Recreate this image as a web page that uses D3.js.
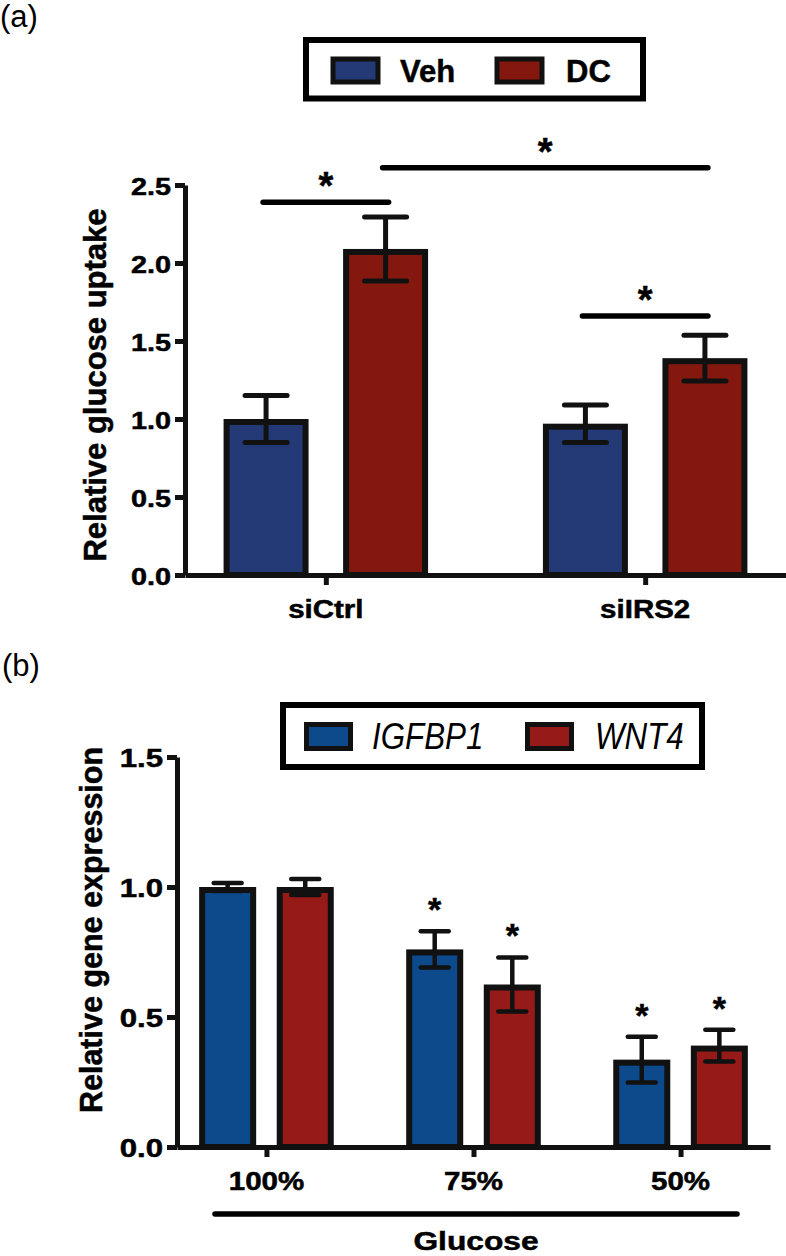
<!DOCTYPE html>
<meta charset="utf-8">
<style>
body { margin: 0; background: #fff; }
svg text { font-family: "Liberation Sans", Arial, Helvetica, sans-serif; fill: #000; }
svg text.heavy { stroke: #000; stroke-width: 0.5px; }
</style>
<body>
<script src="https://cdn.jsdelivr.net/npm/d3@7"></script>
<script>

// ---- data, panel (a) ----
var groupsA = ["siCtrl", "siIRS2"];
var seriesA = ["Veh", "DC"];
var vehA = [1.0, 0.97];
var vehErrA = [0.15, 0.12];
var dcA = [2.09, 1.39];
var dcErrA = [0.205, 0.147];
var ticksA = [0, 0.5, 1.0, 1.5, 2.0, 2.5];
// significance brackets: [group, series] -> [group, series], height in data units
var sigA = [
  {a: ["siCtrl", "Veh"], b: ["siCtrl", "DC"], y: 2.39},
  {a: ["siCtrl", "DC"], b: ["siIRS2", "DC"], y: 2.61},
  {a: ["siIRS2", "Veh"], b: ["siIRS2", "DC"], y: 1.66}
];

// ---- data, panel (b) ----
var groupsB = ["100%", "75%", "50%"];
var seriesB = ["IGFBP1", "WNT4"];
var igfbp1 = [1.0, 0.76, 0.336];
var igfbp1Err = [0.015, 0.07, 0.088];
var wnt4 = [1.0, 0.625, 0.39];
var wnt4Err = [0.031, 0.104, 0.061];
var starIgfbp1 = [false, true, true];
var starWnt4 = [false, true, true];
var ticksB = [0, 0.5, 1.0, 1.5];

var colorsA = {"Veh": "#233a77", "DC": "#84180f"};
var colorsB = {"IGFBP1": "#0c4a8b", "WNT4": "#961a18"};
var ink = "#111";

var svg = d3.select("body").append("svg")
    .attr("width", 786)
    .attr("height", 1256);

// text helper, sx stretches glyphs horizontally
function label(g, x, y, txt, o) {
  o = o || {};
  var w = o.weight || "bold";
  return g.append("text")
    .attr("class", w == "bold" ? "heavy" : null)
    .attr("transform", "translate(" + x + "," + y + ") scale(" + (o.sx || 1) + ",1)")
    .attr("text-anchor", o.anchor || "middle")
    .style("font-size", o.size + "px")
    .style("font-weight", w)
    .style("font-style", o.style || "normal")
    .text(txt);
}

function styleAxis(sel, w) {
  sel.selectAll("path, line").attr("stroke", ink).attr("stroke-width", w);
  sel.selectAll("text").remove();
}

function errBar(g, x, y0, y1, y2, capW, w) {
  g.append("line").attr("x1", x).attr("x2", x).attr("y1", y1).attr("y2", y2)
    .attr("stroke", ink).attr("stroke-width", w);
  [y1, y2].forEach(function(yy) {
    g.append("line").attr("x1", x - capW / 2).attr("x2", x + capW / 2)
      .attr("y1", yy).attr("y2", yy)
      .attr("stroke", ink).attr("stroke-width", w).attr("stroke-linecap", "round");
  });
}

// ================= panel (a) =================
var gA = svg.append("g");
label(gA, 0, 27, "(a)", {size: 31, weight: "normal", anchor: "start"});

var yA = d3.scaleLinear().domain([0, 2.5]).range([575, 185]);
var xA = d3.scalePoint().domain(groupsA).range([185, 786]).padding(0.441);
var innerA = d3.scaleBand().domain(seriesA).range([-102.25, 102.25]).paddingInner(0.289);

var valsA = {"Veh": vehA, "DC": dcA};
var errsA = {"Veh": vehErrA, "DC": dcErrA};

groupsA.forEach(function(gname, i) {
  seriesA.forEach(function(s) {
    var v = valsA[s][i], e = errsA[s][i];
    var x = xA(gname) + innerA(s), bw = innerA.bandwidth();
    gA.append("rect")
      .attr("x", x + 3).attr("y", yA(v) + 3)
      .attr("width", bw - 6).attr("height", yA(0) - yA(v) - 3)
      .attr("fill", colorsA[s]).attr("stroke", ink).attr("stroke-width", 6);
    errBar(gA, x + bw / 2, yA(v), yA(v + e), yA(v - e), 42, 5);
  });
});

gA.append("g").attr("transform", "translate(185,0)")
  .call(d3.axisLeft(yA).tickValues(ticksA).tickSize(10).tickSizeOuter(0))
  .call(styleAxis, 5);
gA.append("g").attr("transform", "translate(0,575)")
  .call(d3.axisBottom(xA).tickSize(10).tickSizeOuter(0))
  .call(styleAxis, 5);

ticksA.forEach(function(t) {
  label(gA, 171, yA(t) + 10, d3.format(".1f")(t), {size: 24, sx: 1.2, anchor: "end"});
});
groupsA.forEach(function(gname) {
  label(gA, xA(gname), 618, gname, {size: 25, sx: 1.18});
});
label(gA, 0, 0, "Relative glucose uptake", {size: 31})
  .attr("transform", "translate(106," + ((yA(0) + yA(2.5)) / 2 + 5) + ") rotate(-90)");

sigA.forEach(function(d) {
  var x1 = xA(d.a[0]) + innerA(d.a[1]) + innerA.bandwidth() / 2 - 3;
  var x2 = xA(d.b[0]) + innerA(d.b[1]) + innerA.bandwidth() / 2 + 3;
  var y = yA(d.y);
  gA.append("line").attr("x1", x1).attr("x2", x2).attr("y1", y).attr("y2", y)
    .attr("stroke", "#000").attr("stroke-width", 5.5).attr("stroke-linecap", "round");
  label(gA, (x1 + x2) / 2, y - 25 + 22, "*", {size: 38});
});

// legend (a)
var legA = gA.append("g");
legA.append("rect").attr("x", 306).attr("y", 40).attr("width", 337).attr("height", 58.5)
  .attr("fill", "#fff").attr("stroke", "#000").attr("stroke-width", 6);
[[332, "Veh", 400], [496, "DC", 566]].forEach(function(d) {
  legA.append("rect").attr("x", d[0] + 1).attr("y", 59).attr("width", 45).attr("height", 23)
    .attr("fill", colorsA[d[1]]).attr("stroke", ink).attr("stroke-width", 5);
  label(legA, d[2], 81.5, d[1], {size: 31, anchor: "start"});
});

// ================= panel (b) =================
var gB = svg.append("g");
label(gB, 2, 676, "(b)", {size: 31, weight: "normal", anchor: "start"});

var yB = d3.scaleLinear().domain([0, 1.5]).range([1147, 757]);
var xB = d3.scalePoint().domain(groupsB).range([177, 770]).padding(0.432);
var innerB = d3.scaleBand().domain(seriesB).range([-67.3, 67.3]).paddingInner(0.265);

var valsB = {"IGFBP1": igfbp1, "WNT4": wnt4};
var errsB = {"IGFBP1": igfbp1Err, "WNT4": wnt4Err};
var starsB = {"IGFBP1": starIgfbp1, "WNT4": starWnt4};

groupsB.forEach(function(gname, i) {
  seriesB.forEach(function(s) {
    var v = valsB[s][i], e = errsB[s][i];
    var x = xB(gname) + innerB(s), bw = innerB.bandwidth();
    gB.append("rect")
      .attr("x", x + 3).attr("y", yB(v) + 3)
      .attr("width", bw - 6).attr("height", yB(0) - yB(v) - 3)
      .attr("fill", colorsB[s]).attr("stroke", ink).attr("stroke-width", 6);
    errBar(gB, x + bw / 2, yB(v), yB(v + e), yB(v - e), 28, 4.5);
    if (starsB[s][i]) label(gB, x + bw / 2, yB(v + e) - 30 + 20, "*", {size: 34});
  });
});

gB.append("g").attr("transform", "translate(177,0)")
  .call(d3.axisLeft(yB).tickValues(ticksB).tickSize(10).tickSizeOuter(0))
  .call(styleAxis, 5);
gB.append("g").attr("transform", "translate(0,1147)")
  .call(d3.axisBottom(xB).tickSize(10).tickSizeOuter(0))
  .call(styleAxis, 5);

ticksB.forEach(function(t) {
  label(gB, 163, yB(t) + 10, d3.format(".1f")(t), {size: 26, sx: 1.2, anchor: "end"});
});
groupsB.forEach(function(gname) {
  label(gB, xB(gname), 1190, gname, {size: 25, sx: 1.18});
});
label(gB, 0, 0, "Relative gene expression", {size: 30.5})
  .attr("transform", "translate(102,930) rotate(-90)");

gB.append("line").attr("x1", 215).attr("x2", 737).attr("y1", 1214).attr("y2", 1214)
  .attr("stroke", "#000").attr("stroke-width", 5.5).attr("stroke-linecap", "round");
label(gB, 476, 1250, "Glucose", {size: 26, sx: 1.22});

// legend (b)
var legB = gB.append("g");
legB.append("rect").attr("x", 283).attr("y", 705).attr("width", 419).attr("height", 62)
  .attr("fill", "#fff").attr("stroke", "#000").attr("stroke-width", 6);
[[304, "IGFBP1", 372], [525, "WNT4", 595]].forEach(function(d) {
  legB.append("rect").attr("x", d[0] + 2.5).attr("y", 724.5).attr("width", 44).attr("height", 24)
    .attr("fill", colorsB[d[1]]).attr("stroke", ink).attr("stroke-width", 5);
  label(legB, d[2], 749, d[1], {size: 36, sx: 0.87, weight: "normal", style: "italic", anchor: "start"});
});

</script>
</body>
